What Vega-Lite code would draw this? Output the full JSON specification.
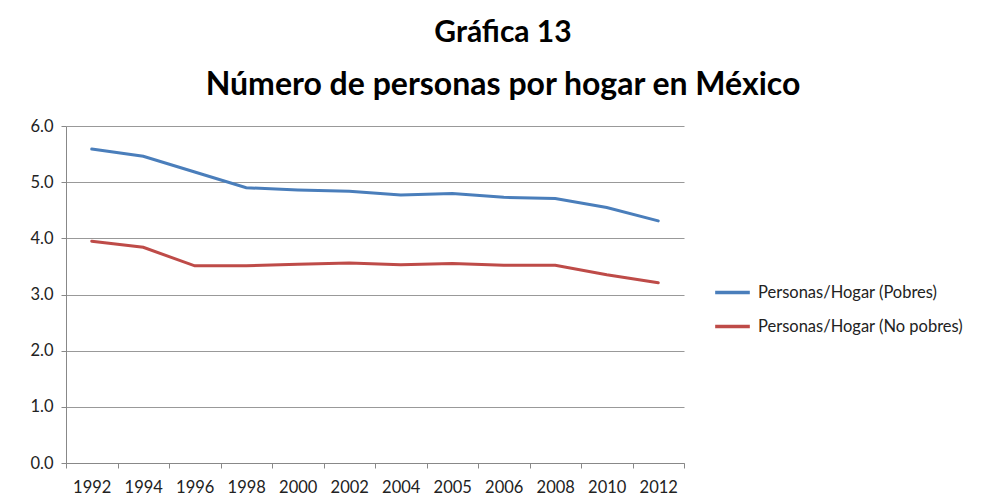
{
  "$schema": "https://vega.github.io/schema/vega-lite/v6.json",
  "autosize": "none",
  "width": 618,
  "height": 337,
  "padding": {"left": 66, "top": 126, "right": 297, "bottom": 41},
  "background": "white",
  "title": {
    "text": "Gráfica 13",
    "subtitle": "Número de personas por hogar en México",
    "anchor": "middle",
    "frame": "group",
    "dx": 128,
    "offset": 17,
    "font": "Lato",
    "fontSize": 30,
    "fontWeight": "bold",
    "color": "#000000",
    "subtitleFont": "Lato",
    "subtitleFontSize": 32,
    "subtitleFontWeight": "bold",
    "subtitleColor": "#000000",
    "subtitlePadding": 22
  },
  "data": {
    "values": [
      {"year": "1992", "serie": "Personas/Hogar (Pobres)", "valor": 5.59},
      {"year": "1994", "serie": "Personas/Hogar (Pobres)", "valor": 5.46},
      {"year": "1996", "serie": "Personas/Hogar (Pobres)", "valor": 5.18},
      {"year": "1998", "serie": "Personas/Hogar (Pobres)", "valor": 4.90},
      {"year": "2000", "serie": "Personas/Hogar (Pobres)", "valor": 4.86},
      {"year": "2002", "serie": "Personas/Hogar (Pobres)", "valor": 4.84},
      {"year": "2004", "serie": "Personas/Hogar (Pobres)", "valor": 4.77},
      {"year": "2005", "serie": "Personas/Hogar (Pobres)", "valor": 4.80},
      {"year": "2006", "serie": "Personas/Hogar (Pobres)", "valor": 4.73},
      {"year": "2008", "serie": "Personas/Hogar (Pobres)", "valor": 4.71},
      {"year": "2010", "serie": "Personas/Hogar (Pobres)", "valor": 4.55},
      {"year": "2012", "serie": "Personas/Hogar (Pobres)", "valor": 4.31},
      {"year": "1992", "serie": "Personas/Hogar (No pobres)", "valor": 3.95},
      {"year": "1994", "serie": "Personas/Hogar (No pobres)", "valor": 3.84},
      {"year": "1996", "serie": "Personas/Hogar (No pobres)", "valor": 3.51},
      {"year": "1998", "serie": "Personas/Hogar (No pobres)", "valor": 3.51},
      {"year": "2000", "serie": "Personas/Hogar (No pobres)", "valor": 3.54},
      {"year": "2002", "serie": "Personas/Hogar (No pobres)", "valor": 3.56},
      {"year": "2004", "serie": "Personas/Hogar (No pobres)", "valor": 3.53},
      {"year": "2005", "serie": "Personas/Hogar (No pobres)", "valor": 3.55},
      {"year": "2006", "serie": "Personas/Hogar (No pobres)", "valor": 3.52},
      {"year": "2008", "serie": "Personas/Hogar (No pobres)", "valor": 3.52},
      {"year": "2010", "serie": "Personas/Hogar (No pobres)", "valor": 3.35},
      {"year": "2012", "serie": "Personas/Hogar (No pobres)", "valor": 3.21}
    ]
  },
  "mark": {"type": "line", "strokeWidth": 3, "strokeCap": "round"},
  "encoding": {
    "x": {
      "field": "year",
      "type": "ordinal",
      "sort": null,
      "scale": {"type": "band", "paddingInner": 0, "paddingOuter": 0},
      "axis": {
        "title": null,
        "labelAngle": 0,
        "labelFont": "Lato",
        "labelFontSize": 16.5,
        "labelColor": "#222222",
        "labelPadding": 11,
        "tickBand": "extent",
        "tickColor": "#888888",
        "tickSize": 5,
        "domainColor": "#888888",
        "grid": false
      }
    },
    "y": {
      "field": "valor",
      "type": "quantitative",
      "scale": {"domain": [0, 6], "nice": false, "zero": true},
      "axis": {
        "title": null,
        "values": [0, 1, 2, 3, 4, 5, 6],
        "format": ".1f",
        "labelFont": "Lato",
        "labelFontSize": 16.5,
        "labelColor": "#222222",
        "labelPadding": 8,
        "tickColor": "#888888",
        "tickSize": 5,
        "domainColor": "#888888",
        "gridColor": "#999999",
        "gridOpacity": 1
      }
    },
    "color": {
      "field": "serie",
      "type": "nominal",
      "sort": ["Personas/Hogar (Pobres)", "Personas/Hogar (No pobres)"],
      "scale": {
        "domain": ["Personas/Hogar (Pobres)", "Personas/Hogar (No pobres)"],
        "range": ["#4a7ebb", "#be4b48"]
      },
      "legend": {
        "title": null,
        "orient": "none",
        "legendX": 647,
        "legendY": 147,
        "symbolType": "stroke",
        "symbolSize": 1200,
        "symbolStrokeWidth": 3.5,
        "labelFont": "Lato",
        "labelFontSize": 16.5,
        "labelColor": "#222222",
        "labelOffset": 6,
        "rowPadding": 6,
        "labelLimit": 300
      }
    }
  },
  "config": {
    "view": {"stroke": null}
  }
}
